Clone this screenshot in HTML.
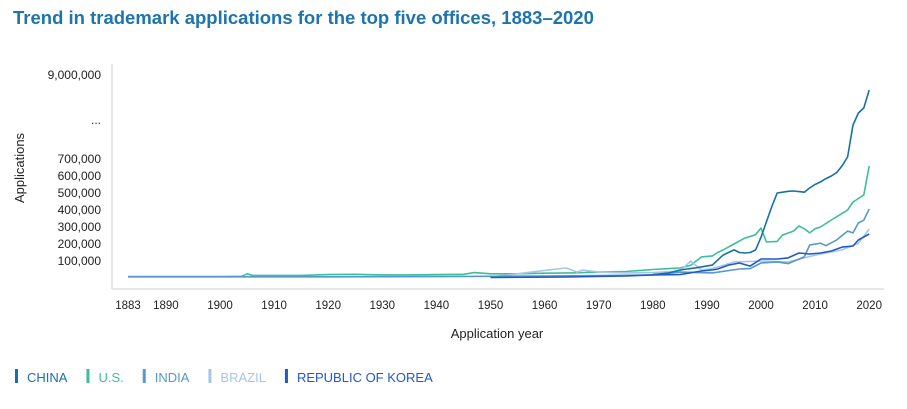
<!DOCTYPE html>
<html><head><meta charset="utf-8"><style>
body{margin:0;background:#fff;width:907px;height:409px;overflow:hidden;font-family:"Liberation Sans",Arial,sans-serif}
svg{position:absolute;left:0;top:0}
</style></head><body>
<svg id="chart" width="907" height="409">
<text x="13" y="24" font-size="18.5" font-weight="bold" fill="#1e74ad">Trend in trademark applications for the top five offices, 1883–2020</text>
<line x1="112" y1="64" x2="112" y2="289" stroke="#ddd" stroke-width="1.5"/>
<line x1="112" y1="289" x2="884" y2="289" stroke="#ddd" stroke-width="1.5"/>
<text transform="translate(24,168) rotate(-90)" text-anchor="middle" font-size="13" fill="#222">Applications</text>
<text x="497" y="338" text-anchor="middle" font-size="13" fill="#222">Application year</text>
<g id="yt"></g><g id="xt"></g><g id="lines"></g><g id="legend"></g>
</svg>
<script>
const yTickVals=[100000,200000,300000,400000,500000,600000,700000,9000000];
const yTickLabels=["100,000","200,000","300,000","400,000","500,000","600,000","700,000","9,000,000"];
const xTickVals=[1883,1890,1900,1910,1920,1930,1940,1950,1960,1970,1980,1990,2000,2010,2020];
const seriesNames=["CHINA","U.S.","INDIA","BRAZIL","REPUBLIC OF KOREA"];
const seriesColors=["#1770a8","#3cbf98","#5598cb","#a6c6e8","#2258c8"];
const chinaYears=[1980,1983,1985,1988,1991,1993,1995,1996,1997,1998,1999,2000,2001,2002,2003,2004,2005,2006,2007,2008,2009,2010,2011,2012,2013,2014,2015,2016,2017,2018,2019,2020];
const chinaVals=[20,30,47,60,76,135,165,150,147,150,165,240,330,420,500,505,510,512,508,505,530,550,565,585,600,620,660,990,4120,5290,5780,7540];
const usYears=[1883,1890,1900,1904,1905,1906,1910,1915,1920,1925,1930,1935,1940,1945,1947,1950,1955,1960,1965,1970,1975,1980,1983,1985,1987,1989,1991,1992,1993,1995,1997,1999,2000,2001,2003,2004,2006,2007,2008,2009,2010,2011,2013,2015,2016,2017,2019,2020];
const usVals=[8,8,9,10,25,15,15,15,20,22,18,18,20,22,32,25,25,28,30,35,38,50,55,59,75,124,130,150,165,200,235,255,294,212,215,253,276,306,290,265,290,300,341,380,400,447,488,659];
const indiaYears=[1883,1900,1920,1940,1950,1960,1970,1980,1985,1991,1996,1998,2000,2003,2005,2008,2009,2011,2012,2014,2016,2017,2018,2019,2020];
const indiaVals=[7,7,7,8,10,12,14,18,35,30,53,55,88,95,85,124,194,205,190,224,276,265,324,340,406];
const brazilYears=[1950,1955,1960,1964,1966,1967,1970,1975,1980,1985,1987,1989,1991,1995,2000,2005,2010,2015,2018,2020];
const brazilVals=[6,25,45,59,35,47,35,30,32,40,100,47,55,94,100,94,135,165,205,288];
const koreaYears=[1950,1964,1975,1980,1985,1989,1991,1992,1994,1996,1998,2000,2003,2005,2007,2009,2011,2013,2015,2017,2018,2020];
const koreaVals=[3,6,12,18,20,41,47,53,76,88,70,112,112,118,147,141,147,159,182,188,224,259];

function X(yr){return 220+(yr-1900)*5.41;}
function Y(v){return v<=700000?278-v/100000*17:160-(v-700000)/8300000*85;}
const NS="http://www.w3.org/2000/svg";
function mk(tag,attrs,parent){const e=document.createElementNS(NS,tag);for(const k in attrs)e.setAttribute(k,attrs[k]);parent.appendChild(e);return e;}
const yt=document.getElementById('yt');
yTickVals.forEach((v,i)=>{const t=mk('text',{x:101,y:Y(v)+4,'text-anchor':'end','font-size':'12',fill:'#222'},yt);


t.textContent=yTickLabels[i];});
const dots=mk('text',{x:101,y:124,'text-anchor':'end','font-size':'12',fill:'#222'},yt);


dots.textContent='...';
const xt=document.getElementById('xt');
xTickVals.forEach(v=>{const t=mk('text',{x:X(v),y:309,'text-anchor':'middle','font-size':'11.5',fill:'#222'},xt);


t.textContent=v;});
const data=[[chinaYears,chinaVals],[usYears,usVals],[indiaYears,indiaVals],[brazilYears,brazilVals],[koreaYears,koreaVals]];
const order=[1,3,2,4,0];
const lg=document.getElementById('lines');
order.forEach(i=>{const [ys,vs]=data[i];
const d=ys.map((y,j)=>(j?'L':'M')+X(y).toFixed(1)+','+Y(vs[j]*1000).toFixed(1)).join('');
const p=mk('path',{d:d,fill:'none',stroke:seriesColors[i],'stroke-width':'1.6','stroke-linejoin':'round'},lg);

});
const leg=document.getElementById('legend');
let lx=15;
seriesNames.forEach((n,i)=>{const g=mk('g',{},leg);


mk('rect',{x:lx,y:369,width:3,height:14,fill:seriesColors[i]},g);
const t=mk('text',{x:lx+12,y:382,'font-size':'13',fill:seriesColors[i]},g);
t.textContent=n;
lx+=12+t.getComputedTextLength()+19;});
</script>
</body></html>
